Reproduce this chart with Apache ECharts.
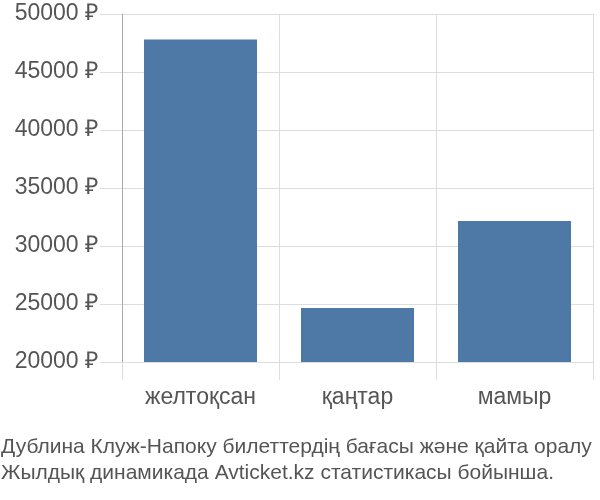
<!DOCTYPE html>
<html>
<head>
<meta charset="utf-8">
<script src="https://cdn.jsdelivr.net/npm/echarts@6/dist/echarts.min.js"></script>
<style>
  html, body { margin: 0; padding: 0; background: #fff; }
  #chart { width: 600px; height: 500px; }
</style>
</head>
<body>
<div id="chart"></div>
<script>
// months and average ticket price
var months = ["желтоқсан", "қаңтар", "мамыр"];
var prices = [47800, 24650, 32150];
var titleLines = [
  "Дублина Клуж-Напоку билеттердің бағасы және қайта оралу",
  "Жылдық динамикада Avticket.kz статистикасы бойынша."
];

var myChart = echarts.init(document.getElementById('chart'));

var option = {
  animation: false,
  textStyle: { fontFamily: "Liberation Sans" },
  title: {
    text: titleLines.join("\n"),
    left: -4,
    top: 429,
    textStyle: {
      fontFamily: "Liberation Sans",
      fontSize: 21,
      fontWeight: "normal",
      color: "#555",
      lineHeight: 26
    }
  },
  grid: { left: 122, right: 7, top: 14, bottom: 138 },
  xAxis: {
    type: "category",
    data: months,
    axisLine: { show: true, lineStyle: { color: "#ddd" } },
    axisTick: { show: true, length: 18, lineStyle: { color: "#ddd" } },
    axisLabel: { color: "#555", fontSize: 23, margin: 24 },
    splitLine: { show: true, lineStyle: { color: "#ddd" } }
  },
  yAxis: {
    type: "value",
    min: 20000,
    max: 50000,
    interval: 5000,
    axisLine: { show: true, lineStyle: { color: "#aaa" } },
    axisTick: { show: true, length: 22, lineStyle: { color: "#ddd" } },
    axisLabel: {
      color: "#555",
      fontSize: 23,
      margin: 24,
      padding: [3, 0, 0, 0],
      formatter: function (v) { return v + " ₽"; }
    },
    splitLine: { show: true, lineStyle: { color: "#ddd" } }
  },
  series: [{
    type: "bar",
    data: prices,
    barCategoryGap: "28%",
    itemStyle: { color: "#4e79a7" }
  }]
};

myChart.setOption(option);
</script>
</body>
</html>
